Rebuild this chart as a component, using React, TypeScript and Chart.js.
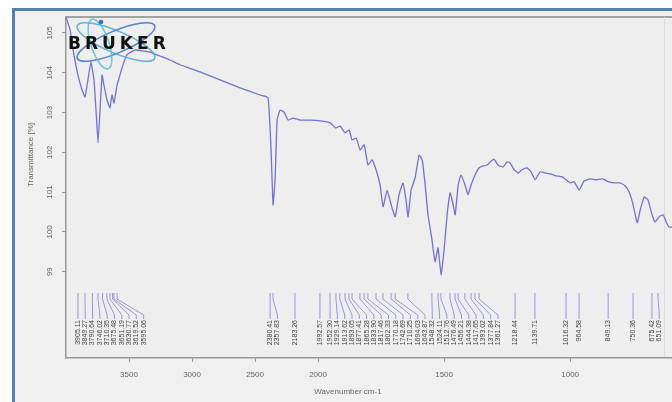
import React, { useEffect, useRef } from "react";
import { Chart, registerables } from "chart.js";

Chart.register(...registerables);

// Spectrum (wavenumber cm-1, transmittance %)
const WAVENUMBERS = [
  3998, 3968, 3937, 3905, 3873, 3849, 3826, 3802, 3778, 3762, 3746, 3730, 3714, 3699, 3675, 3651, 3635, 3619, 3595, 3572,
  3548, 3516, 3452, 3333, 3254, 3175, 3095, 2937, 2778, 2619, 2460, 2397, 2373, 2357, 2341, 2325, 2302, 2270, 2238, 2198,
  2143, 2063, 1992, 1952, 1929, 1913, 1893, 1877, 1865, 1849, 1833, 1817, 1802, 1786, 1770, 1754, 1742, 1726, 1710, 1694,
  1679, 1663, 1651, 1643, 1631, 1615, 1599, 1587, 1575, 1564, 1548, 1536, 1524, 1512, 1500, 1488, 1476, 1464, 1456, 1444,
  1433, 1417, 1405, 1393, 1377, 1361, 1345, 1329, 1317, 1302, 1286, 1266, 1250, 1238, 1222, 1206, 1191, 1171, 1155, 1139,
  1119, 1099, 1079, 1056, 1032, 1016, 1000, 984, 964, 945, 921, 897, 869, 849, 825, 802, 782, 766, 750, 734,
  722, 706, 691, 675, 663, 647, 631, 619, 607, 595, 580,
];
const TRANSMITTANCE = [
  105.38, 105.08, 104.45, 103.94, 103.57, 103.39, 103.82, 104.27, 103.82, 103.06, 102.24, 103.06, 103.94, 103.69, 103.32, 103.12, 103.44, 103.24, 103.69, 103.94,
  104.2, 104.45, 104.57, 104.52, 104.42, 104.32, 104.2, 104.02, 103.82, 103.62, 103.44, 103.37, 102.06, 100.68, 101.31, 102.81, 103.06, 103.01, 102.81, 102.86,
  102.81, 102.81, 102.79, 102.74, 102.61, 102.66, 102.49, 102.56, 102.31, 102.36, 102.06, 102.19, 101.68, 101.81, 101.56, 101.18, 100.63, 101.05, 100.68, 100.38,
  100.93, 101.23, 100.8, 100.38, 101.05, 101.36, 101.93, 101.81, 101.18, 100.43, 99.8, 99.25, 99.6, 98.92, 99.55, 100.43, 100.98, 100.68, 100.43, 101.18,
  101.43, 101.18, 100.93, 101.18, 101.43, 101.61, 101.66, 101.68, 101.76, 101.83, 101.68, 101.63, 101.76, 101.73, 101.56, 101.48, 101.56, 101.61, 101.51, 101.31,
  101.51, 101.48, 101.46, 101.41, 101.38, 101.31, 101.23, 101.26, 101.05, 101.28, 101.33, 101.31, 101.33, 101.26, 101.23, 101.23, 101.16, 101.0, 100.68, 100.23,
  100.55, 100.88, 100.8, 100.43, 100.25, 100.38, 100.43, 100.25, 100.12, 100.12, 100.1,
];

// Peak picks (wavenumber labels)
const PEAKS = [
  3905.11, 3849.27, 3790.64, 3746.02, 3710.35, 3675.48, 3651.19, 3630.77, 3619.52, 3595.06,
  2380.41, 2357.83, 2183.26,
  1992.57, 1952.3, 1929.14, 1913.62, 1893.05, 1877.41, 1865.28, 1833.9, 1817.46, 1802.33, 1770.18, 1742.69, 1710.25, 1694.03, 1643.87,
  1548.32, 1524.11, 1512.76, 1476.49, 1456.21, 1444.38, 1417.65, 1393.02, 1377.84, 1361.27,
  1218.44, 1139.71, 1016.32, 964.58, 849.13, 750.36, 675.42, 651.09,
];

const X_TICKS = [3500, 3000, 2500, 2000, 1500, 1000];
const Y_TICKS = [105, 104, 103, 102, 101, 100, 99];
const X_TITLE = "Wavenumber cm-1";
const Y_TITLE = "Transmittance [%]";
const LOGO = "BRUKER";

// OPUS-style axis: half scale above 2000 cm-1
const toP = (wn: number) => (wn <= 2000 ? wn : 2000 + (wn - 2000) / 2);
const fromP = (p: number) => (p <= 2000 ? p : 2000 + (p - 2000) * 2);

const LINE_COLOR = "#7272d4";

const decorPlugin = {
  id: "decor",
  beforeDraw(chart: any) {
    const { ctx, chartArea } = chart;
    ctx.save();
    ctx.fillStyle = "#ffffff";
    ctx.fillRect(0, 0, chart.width, chart.height);
    ctx.fillStyle = "#f0f0f0";
    ctx.fillRect(14, 10, chart.width, chart.height);
    ctx.fillStyle = "#4f81bd";
    ctx.fillRect(12, 8, chart.width, 3);
    ctx.fillRect(12, 8, 3, chart.height);
    ctx.fillStyle = "#eeeeee";
    ctx.fillRect(chartArea.left, chartArea.top, chartArea.right - chartArea.left, chartArea.bottom - chartArea.top);
    ctx.strokeStyle = "#8a8a8a";
    ctx.lineWidth = 1.5;
    ctx.beginPath();
    ctx.moveTo(chartArea.left, chartArea.top);
    ctx.lineTo(chart.width, chartArea.top);
    ctx.stroke();
    ctx.strokeStyle = "#dcdcdc";
    ctx.lineWidth = 1;
    ctx.beginPath();
    ctx.moveTo(664.5, chartArea.top);
    ctx.lineTo(664.5, chartArea.bottom);
    ctx.stroke();
    ctx.restore();
  },
  afterDraw(chart: any) {
    const { ctx, chartArea, scales } = chart;
    const xs = scales.x;
    const ys = scales.y;
    ctx.save();
    ctx.fillStyle = "#666";
    ctx.font = "8px 'Liberation Sans', Arial, sans-serif";
    ctx.textAlign = "center";
    ctx.textBaseline = "middle";
    Y_TICKS.forEach((v) => {
      const y = ys.getPixelForValue(v);
      ctx.save();
      ctx.translate(50, y);
      ctx.rotate(-Math.PI / 2);
      ctx.fillText(String(v), 0, 0);
      ctx.restore();
    });
    ctx.save();
    ctx.translate(31, 155);
    ctx.rotate(-Math.PI / 2);
    ctx.fillText(Y_TITLE, 0, 0);
    ctx.restore();
    ctx.fillText(X_TITLE, 348, 392);

    // peak annotations
    const top = chartArea.bottom - 65;
    const sorted = PEAKS.map((wn) => ({ wn, px: xs.getPixelForValue(toP(wn)) })).sort((a, b) => a.px - b.px);
    let last = -Infinity;
    const gap = 7.3;
    sorted.forEach((p) => {
      const lx = Math.max(p.px, last + gap);
      last = lx;
      ctx.strokeStyle = "rgba(100,100,210,0.8)";
      ctx.lineWidth = 0.8;
      ctx.beginPath();
      ctx.moveTo(p.px, top);
      ctx.lineTo(p.px, top + 6);
      ctx.lineTo(lx, top + 22);
      ctx.lineTo(lx, top + 26);
      ctx.stroke();
      ctx.save();
      ctx.translate(lx, top + 27);
      ctx.rotate(-Math.PI / 2);
      ctx.fillStyle = "#444";
      ctx.font = "7px 'Liberation Sans', Arial, sans-serif";
      ctx.textAlign = "right";
      ctx.textBaseline = "middle";
      ctx.fillText(p.wn.toFixed(2), 0, 0);
      ctx.restore();
    });

    // Bruker logo
    ctx.save();
    ctx.lineWidth = 1.6;
    const orbits = [
      { x: 116, y: 42, rx: 42, ry: 11, r: 0.4, c: "rgba(70,170,210,0.85)" },
      { x: 116, y: 42, rx: 42, ry: 11, r: -0.4, c: "rgba(60,110,200,0.85)" },
      { x: 100, y: 44, rx: 26, ry: 9, r: 1.25, c: "rgba(80,190,210,0.8)" },
    ];
    orbits.forEach((o) => {
      ctx.strokeStyle = o.c;
      ctx.beginPath();
      ctx.ellipse(o.x, o.y, o.rx, o.ry, o.r, 0, Math.PI * 2);
      ctx.stroke();
    });
    ctx.fillStyle = "#3a6fc4";
    ctx.beginPath();
    ctx.arc(101, 22, 2.3, 0, Math.PI * 2);
    ctx.fill();
    ctx.restore();
    ctx.fillStyle = "#111";
    ctx.font = "bold 17px 'DejaVu Sans', sans-serif";
    (ctx as any).letterSpacing = "4px";
    ctx.textAlign = "left";
    ctx.textBaseline = "middle";
    ctx.fillText(LOGO, 68, 45);
    ctx.restore();
  },
};

export default function App() {
  const ref = useRef<HTMLCanvasElement | null>(null);
  useEffect(() => {
    if (!ref.current) return;
    const chart = new Chart(ref.current, {
      type: "line",
      data: {
        datasets: [
          {
            data: WAVENUMBERS.map((w, i) => ({ x: toP(w), y: TRANSMITTANCE[i] })),
            borderColor: LINE_COLOR,
            borderWidth: 1.3,
            pointRadius: 0,
            tension: 0.12,
            fill: false,
          },
        ],
      },
      options: {
        animation: false,
        responsive: true,
        maintainAspectRatio: false,
        layout: { padding: { top: 17, left: 0, right: 4, bottom: 0 } },
        plugins: { legend: { display: false }, tooltip: { enabled: false } },
        scales: {
          x: {
            type: "linear",
            reverse: true,
            min: toP(580),
            max: toP(4000),
            afterBuildTicks: (s: any) => {
              s.ticks = X_TICKS.map((w) => ({ value: toP(w) }));
            },
            afterFit: (s: any) => {
              s.height = 44;
            },
            ticks: {
              callback: (v: any) => String(Math.round(fromP(Number(v)))),
              color: "#666",
              font: { size: 8, family: "'Liberation Sans', Arial, sans-serif" },
              padding: 8,
              maxRotation: 0,
              minRotation: 0,
              autoSkip: false,
            },
            grid: { drawOnChartArea: false, tickLength: 4, color: "#999" },
            border: { color: "#999", width: 1.5 },
          },
          y: {
            type: "linear",
            min: 96.83,
            max: 105.4,
            afterBuildTicks: (s: any) => {
              s.ticks = Y_TICKS.map((v) => ({ value: v }));
            },
            afterFit: (s: any) => {
              s.width = 66;
            },
            ticks: { display: false },
            grid: { drawOnChartArea: false, tickLength: 4, color: "#999" },
            border: { color: "#999", width: 1.5 },
          },
        },
      },
      plugins: [decorPlugin],
    });
    return () => chart.destroy();
  }, []);
  return (
    <div style={{ position: "fixed", left: 0, top: 0, width: 672, height: 402, overflow: "hidden", background: "#fff" }}>
      <div style={{ position: "absolute", left: 0, top: 0, width: 680, height: 402 }}>
        <canvas ref={ref} />
      </div>
    </div>
  );
}
